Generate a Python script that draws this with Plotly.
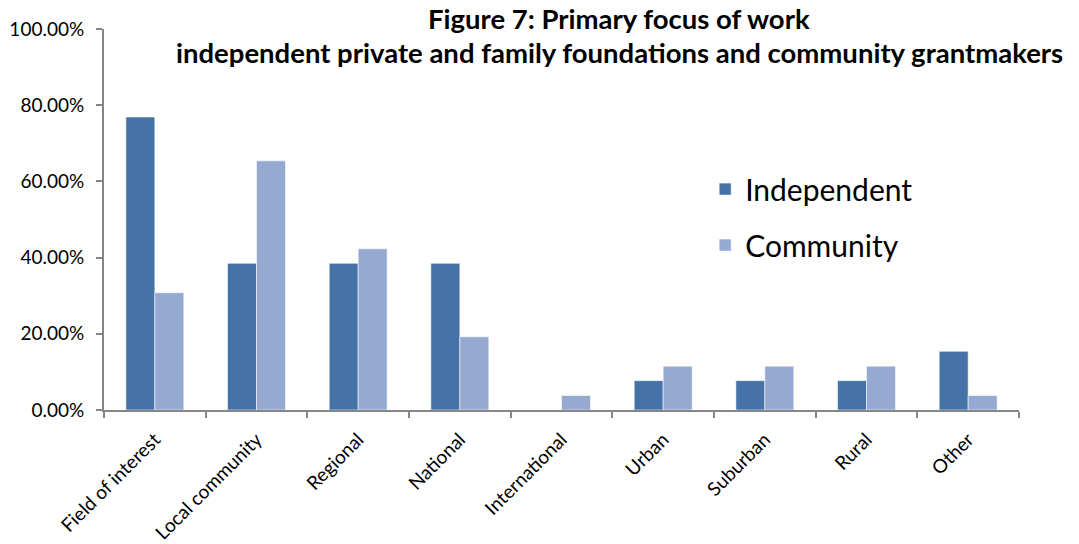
import plotly.graph_objects as go

# Share of respondents (%) by primary focus of work
categories = ["Field of interest", "Local community", "Regional", "National",
              "International", "Urban", "Suburban", "Rural", "Other"]
independent = [76.9, 38.5, 38.5, 38.5, 0.0, 7.7, 7.7, 7.7, 15.4]
community = [30.8, 65.4, 42.3, 19.2, 3.8, 11.5, 11.5, 11.5, 3.8]
y_ticks = [0, 20, 40, 60, 80, 100]

FONT = "Lato, Carlito, Calibri, sans-serif"
AXIS_GREY = "#868686"

fig = go.Figure()
fig.add_trace(go.Bar(
    x=categories, y=independent, name="Independent", legendgroup="a",
    marker=dict(color="#4673A7", line=dict(color="rgba(255,255,255,0.55)", width=1)),
))
fig.add_trace(go.Bar(
    x=categories, y=community, name="Community", legendgroup="b",
    marker=dict(color="#95A9D1", line=dict(color="rgba(255,255,255,0.55)", width=1)),
))

fig.update_layout(
    width=1079, height=544,
    margin=dict(l=104, r=60, t=29, b=134),
    paper_bgcolor="white", plot_bgcolor="white",
    font=dict(family=FONT, color="black", size=16),
    barmode="group", bargap=0.43, bargroupgap=0,
    showlegend=True,
    legend=dict(
        x=0.657, y=0.648, xanchor="left", yanchor="top",
        font=dict(size=30, family=FONT), tracegroupgap=14,
        bgcolor="rgba(0,0,0,0)",
    ),
    xaxis=dict(
        type="category", tickson="boundaries", ticks="outside", ticklen=6,
        tickcolor=AXIS_GREY, tickwidth=2, showline=True, linecolor=AXIS_GREY,
        linewidth=2, showgrid=False, tickangle=-45, tickfont=dict(size=19),
        ticklabelstandoff=9, automargin=False,
    ),
    yaxis=dict(
        range=[0, 100], tickvals=y_ticks,
        ticktext=[f"{v:.2f}%" for v in y_ticks],
        ticks="outside", ticklen=6, tickcolor=AXIS_GREY, tickwidth=2,
        showline=True, linecolor=AXIS_GREY, linewidth=2, showgrid=False,
        zeroline=False, tickfont=dict(size=19), ticklabelstandoff=8,
        automargin=False,
    ),
    annotations=[
        dict(text="<b>Figure 7: Primary focus of work</b>", xref="paper", yref="paper",
             x=0.563, y=1.0, xanchor="center", yanchor="middle", yshift=11,
             showarrow=False, font=dict(size=27.5, family=FONT)),
        dict(text="<b>independent private and family foundations and community grantmakers</b>",
             xref="paper", yref="paper", x=0.563, y=1.0, xanchor="center",
             yanchor="middle", yshift=-23, showarrow=False,
             font=dict(size=27.5, family=FONT)),
    ],
)

fig.write_html("out.html")
